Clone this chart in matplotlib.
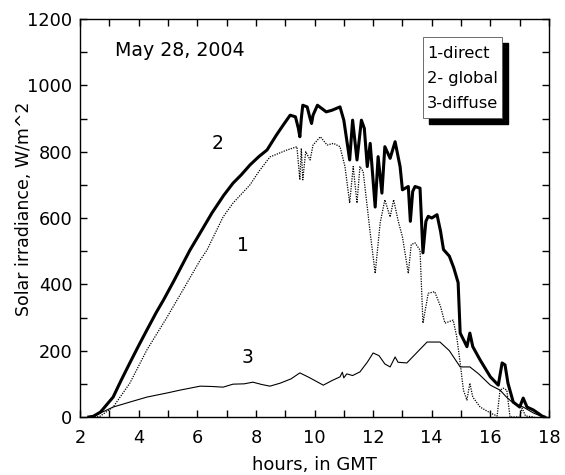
import matplotlib
matplotlib.use("Agg")
import matplotlib.pyplot as plt
from matplotlib.patches import Rectangle
from matplotlib.ticker import MultipleLocator

plt.rcParams['font.family'] = ['DejaVu Sans']

global_h = [2.30, 2.45, 2.7, 3.13, 3.4, 3.7, 4.0, 4.28, 4.6, 4.85, 5.2, 5.75, 6.1, 6.5, 6.9, 7.22,
            7.5, 7.8, 8.1, 8.38, 8.7, 8.93, 9.17, 9.35, 9.45, 9.5, 9.55, 9.6, 9.75, 9.85, 9.9, 9.95,
            10.1, 10.25, 10.4, 10.6, 10.87, 11.0, 11.2, 11.3, 11.45, 11.6, 11.7, 11.8, 11.9, 12.07,
            12.17, 12.3, 12.4, 12.58, 12.75, 12.92, 13.0, 13.2, 13.27, 13.35, 13.43, 13.6, 13.7,
            13.8, 13.88, 14.0, 14.18, 14.3, 14.4, 14.6, 14.75, 14.9, 14.97, 15.1, 15.2, 15.3, 15.4,
            15.65, 16.0, 16.27, 16.4, 16.5, 16.6, 16.78, 17.0, 17.12, 17.25, 17.47, 17.76, 17.85]
global_v = [0, 2, 15, 60, 110, 163, 215, 262, 315, 353, 410, 503, 555, 615, 668, 705,
            730, 760, 785, 805, 850, 880, 910, 905, 870, 845, 900, 940, 935, 900, 885, 910,
            940, 930, 920, 925, 935, 895, 775, 895, 775, 895, 870, 755, 825, 633,
            785, 675, 815, 780, 830, 755, 685, 695, 590, 680, 695, 690, 495,
            590, 605, 600, 610, 560, 505, 485, 450, 405, 253, 230, 212, 253, 212,
            172, 121, 96, 163, 157, 102, 45, 30, 57, 30, 21, 3, 0]

direct_h = [2.5, 2.68, 3.13, 3.7, 4.28, 4.97, 5.65, 6.1, 6.33, 6.88, 7.22, 7.8, 8.1, 8.48, 9.06,
            9.3, 9.4, 9.5, 9.55, 9.6, 9.7, 9.85, 9.95, 10.2, 10.43, 10.65, 10.87, 11.04, 11.2,
            11.32, 11.45, 11.55, 11.66, 11.8, 11.9, 12.07, 12.24, 12.4, 12.58, 12.7, 12.85, 13.0,
            13.2, 13.3, 13.43, 13.6, 13.7, 13.88, 14.1, 14.3, 14.45, 14.73, 14.85, 14.97, 15.08,
            15.2, 15.3, 15.4, 15.65, 16.0, 16.23, 16.33, 16.44, 16.56, 16.67, 17.0, 17.08, 17.2, 17.5]
direct_v = [0, 2, 30, 102, 202, 301, 404, 473, 503, 603, 645, 700, 740, 784, 805,
            812, 815, 715, 810, 715, 800, 775, 820, 845, 820, 825, 815, 755, 645,
            755, 645, 755, 740, 633, 555, 433, 585, 655, 603, 655, 593, 543,
            433, 520, 525, 503, 283, 373, 378, 333, 283, 292, 243, 163, 81,
            51, 102, 60, 30, 12, 3, 81, 87, 81, 0, 0, 27, 3, 0]

diffuse_h = [2.3, 2.6, 3.13, 3.7, 4.28, 5.0, 5.41, 6.1, 6.5, 6.88, 7.22, 7.6, 7.9, 8.2, 8.48, 8.83,
             9.2, 9.5, 9.8, 10.3, 10.6, 10.87, 10.95, 11.0, 11.1, 11.3, 11.55, 11.8, 12.0, 12.2,
             12.4, 12.58, 12.75, 12.85, 13.15, 13.5, 13.84, 14.28, 14.6, 14.97, 15.3, 15.6, 16.0,
             16.33, 16.55, 16.78, 17.12, 17.47, 17.8]
diffuse_v = [0, 8, 30, 45, 60, 73, 81, 93, 92, 90, 99, 100, 105, 98, 93, 102,
             115, 133, 120, 96, 110, 121, 135, 118, 130, 125, 136, 165, 193, 185,
             160, 151, 181, 165, 163, 195, 226, 226, 200, 151, 151, 130, 96,
             81, 60, 42, 30, 12, 0]

legend_lines = ["1-direct", "2- global", "3-diffuse"]

fig = plt.figure(figsize=(5.65, 4.75), dpi=100)
ax = fig.add_axes([80 / 565, 1 - 417 / 475, 469 / 565, 398 / 475])

ax.plot(diffuse_h, diffuse_v, color='black', lw=0.8)
ax.plot(direct_h, direct_v, color='black', lw=0.9, linestyle=(0, (1, 1)))
ax.plot(global_h, global_v, color='black', lw=2.2)

ax.set_xlim(2, 18)
ax.set_ylim(0, 1200)
ax.xaxis.set_major_locator(MultipleLocator(2))
ax.xaxis.set_minor_locator(MultipleLocator(1))
ax.yaxis.set_major_locator(MultipleLocator(200))
ax.yaxis.set_minor_locator(MultipleLocator(100))
ax.tick_params(which='both', direction='in', top=True, right=True, length=5, width=1,
               labelsize=12.8)
ax.tick_params(axis='x', pad=8.5)
ax.tick_params(axis='y', pad=5.5)
for s in ax.spines.values():
    s.set_linewidth(1.0)

ax.set_xlabel("hours, in GMT", fontsize=13)
ax.set_ylabel("Solar irradiance, W/m^2", fontsize=12.5)
ax.xaxis.set_label_coords(0.5, (417 - 456) / 398)
ax.yaxis.set_label_coords((33 - 80) / 469, (417 - 209) / 398)

ax.text(3.19, 1106, "May 28, 2004", fontsize=13.7, va='center', ha='left')
ax.text(6.71, 826, "2", fontsize=13.5, va='center', ha='center')
ax.text(7.56, 518, "1", fontsize=13.5, va='center', ha='center')
ax.text(7.7, 178, "3", fontsize=13.5, va='center', ha='center')

# legend box with shadow
bx0, bx1 = (423 - 80) / 469, (502 - 80) / 469
by0, by1 = (417 - 118) / 398, (417 - 37) / 398
dx, dy = 6 / 469, 6 / 398
ax.add_patch(Rectangle((bx0 + dx, by0 - dy), bx1 - bx0, by1 - by0, transform=ax.transAxes,
                       facecolor='black', edgecolor='black', zorder=5))
ax.add_patch(Rectangle((bx0, by0), bx1 - bx0, by1 - by0, transform=ax.transAxes,
                       facecolor='white', edgecolor='#555555', lw=0.6, zorder=6))
for i, t in enumerate(legend_lines):
    ypx = [54, 79, 104][i]
    ax.text((427 - 80) / 469, (417 - ypx) / 398, t, transform=ax.transAxes, fontsize=11.7,
            va='center', ha='left', zorder=7)

fig.savefig("out.png", dpi=100)
